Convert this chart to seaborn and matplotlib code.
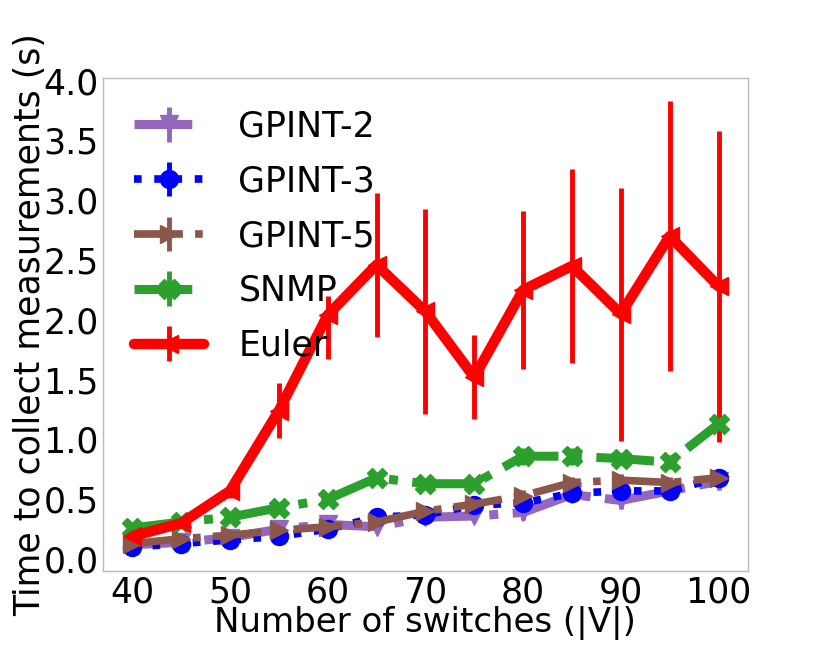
import matplotlib
matplotlib.use("Agg")
import matplotlib.pyplot as plt
import seaborn as sns
import numpy as np

# ---- data ----
switches = [40, 45, 50, 55, 60, 65, 70, 75, 80, 85, 90, 95, 100]

gpint2 = [0.12, 0.14, 0.18, 0.25, 0.29, 0.27, 0.35, 0.36, 0.39, 0.54, 0.49, 0.57, 0.65]
gpint2_err = [0.03, 0.03, 0.03, 0.04, 0.04, 0.05, 0.04, 0.05, 0.06, 0.05, 0.07, 0.06, 0.07]

gpint3 = [0.10, 0.13, 0.16, 0.19, 0.25, 0.35, 0.37, 0.45, 0.47, 0.55, 0.57, 0.57, 0.68]
gpint3_err = [0.03, 0.03, 0.03, 0.03, 0.03, 0.04, 0.03, 0.04, 0.04, 0.05, 0.05, 0.05, 0.05]

gpint5 = [0.13, 0.17, 0.20, 0.24, 0.27, 0.31, 0.40, 0.46, 0.53, 0.64, 0.66, 0.64, 0.68]
gpint5_err = [0.03, 0.03, 0.03, 0.03, 0.03, 0.04, 0.04, 0.04, 0.05, 0.05, 0.05, 0.05, 0.05]

snmp = [0.26, 0.31, 0.35, 0.43, 0.50, 0.68, 0.63, 0.63, 0.86, 0.86, 0.84, 0.81, 1.13]
snmp_err = [0.04, 0.03, 0.03, 0.04, 0.03, 0.04, 0.04, 0.04, 0.07, 0.07, 0.05, 0.06, 0.05]

euler = [0.19, 0.30, 0.57, 1.24, 2.04, 2.46, 2.07, 1.52, 2.25, 2.45, 2.05, 2.70, 2.28]
euler_err_low = [0.02, 0.03, 0.06, 0.23, 0.37, 0.60, 0.86, 0.35, 0.66, 0.81, 1.06, 1.13, 1.30]
euler_err_high = [0.02, 0.03, 0.06, 0.23, 0.16, 0.60, 0.86, 0.35, 0.66, 0.81, 1.05, 1.13, 1.30]

labels = ["GPINT-2", "GPINT-3", "GPINT-5", "SNMP", "Euler"]
x_ticks = [40, 50, 60, 70, 80, 90, 100]
y_ticks = [0.0, 0.5, 1.0, 1.5, 2.0, 2.5, 3.0, 3.5, 4.0]

# ---- style ----
sns.set_style("white")
plt.rcParams['font.family'] = ['DejaVu Sans']
plt.rcParams['text.color'] = 'black'
plt.rcParams['axes.labelcolor'] = 'black'
plt.rcParams['xtick.color'] = 'black'
plt.rcParams['ytick.color'] = 'black'
pal = sns.color_palette("tab10")
c_purple, c_brown, c_green = pal[4], pal[5], pal[2]

fig = plt.figure(figsize=(8.3, 6.46), dpi=100)
ax = fig.add_axes([0.124, 0.116, 0.777, 0.763])

ax.errorbar(switches, gpint2, yerr=gpint2_err, color=c_purple, linestyle='-.',
            lw=6.5, marker='v', markersize=13, elinewidth=3.5, capsize=0, label=labels[0])
ax.errorbar(switches, gpint3, yerr=gpint3_err, color='blue', linestyle=':',
            lw=5.5, marker='o', markersize=13, elinewidth=3.5, capsize=0, label=labels[1])
ax.errorbar(switches, gpint5, yerr=gpint5_err, color=c_brown, linestyle='-.',
            lw=5.5, marker='>', markersize=13, elinewidth=3.5, capsize=0, label=labels[2])
ax.errorbar(switches, snmp, yerr=snmp_err, color=c_green, linestyle='-.',
            lw=6.5, marker='X', markersize=14, elinewidth=3.5, capsize=0, label=labels[3])
ax.errorbar(switches, euler, yerr=[euler_err_low, euler_err_high], color='red', linestyle='-',
            lw=7.5, marker='<', markersize=13, elinewidth=3.5, capsize=0, label=labels[4])

ax.set_xlim(37, 103)
ax.set_ylim(-0.1, 4.02)
ax.set_xticks(x_ticks)
ax.set_yticks(y_ticks)
ax.set_yticklabels([f"{v:.1f}" for v in y_ticks])
ax.tick_params(axis='both', labelsize=25, length=0, pad=3)
ax.set_xlabel("Number of switches (|V|)", fontsize=24.5, labelpad=-2)
ax.set_ylabel("Time to collect measurements (s)", fontsize=25, labelpad=-3)

for s in ax.spines.values():
    s.set_color('#bbbbbb')
    s.set_linewidth(1.0)

ax.legend(loc='upper left', frameon=False, fontsize=25, handlelength=2.0,
          handletextpad=1.0, labelspacing=0.6)

fig.savefig("out.png", dpi=100)
